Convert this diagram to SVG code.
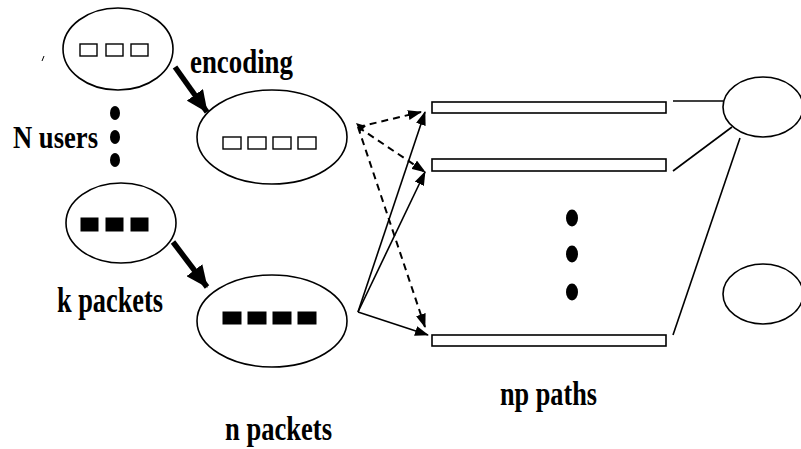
<svg xmlns="http://www.w3.org/2000/svg" width="801" height="449" viewBox="0 0 801 449">
<defs>
<style>
.el{fill:none;stroke:#000;stroke-width:1.6}
.sq{fill:#fff;stroke:#000;stroke-width:1.4}
.fq{fill:#000;stroke:#000;stroke-width:1}
.bar{fill:#fff;stroke:#000;stroke-width:1.6}
.dot{fill:#000}
.lbl{font-family:"Liberation Serif","Times New Roman",serif;font-weight:bold;fill:#000}
.thin{fill:none;stroke:#000;stroke-width:1.6}
.dash{fill:none;stroke:#000;stroke-width:2;stroke-dasharray:7 5}
.thick{fill:none;stroke:#000;stroke-width:5.5}
</style>
<marker id="ah" markerUnits="userSpaceOnUse" markerWidth="14" markerHeight="10" refX="13" refY="5" orient="auto"><path d="M0,0 L14,5 L0,10 z" fill="#000"/></marker>
<marker id="big" markerUnits="userSpaceOnUse" markerWidth="22" markerHeight="20" refX="21" refY="10" orient="auto"><path d="M0,0 L22,10 L0,20 z" fill="#000"/></marker>
</defs>
<g id="user1">
<ellipse class="el" cx="118" cy="49" rx="55" ry="41"/>
<rect class="sq" x="80" y="44" width="17" height="12"/>
<rect class="sq" x="106" y="44" width="17" height="12"/>
<rect class="sq" x="131" y="44" width="17" height="12"/>
</g>
<g id="userN">
<ellipse class="el" cx="121" cy="223" rx="55" ry="40"/>
<rect class="fq" x="81" y="218" width="17" height="13"/>
<rect class="fq" x="106" y="218" width="17" height="13"/>
<rect class="fq" x="131" y="218" width="17" height="13"/>
</g>
<g id="enc1">
<ellipse class="el" cx="272" cy="137" rx="75" ry="47"/>
<rect class="sq" x="223" y="137" width="18" height="12"/>
<rect class="sq" x="248" y="137" width="18" height="12"/>
<rect class="sq" x="273" y="137" width="18" height="12"/>
<rect class="sq" x="298" y="137" width="18" height="12"/>
</g>
<g id="encN">
<ellipse class="el" cx="272" cy="321" rx="75" ry="46"/>
<rect class="fq" x="223" y="312" width="18" height="12"/>
<rect class="fq" x="248" y="312" width="18" height="12"/>
<rect class="fq" x="273" y="312" width="18" height="12"/>
<rect class="fq" x="298" y="312" width="18" height="12"/>
</g>
<g id="users-dots">
<ellipse class="dot" cx="115" cy="113" rx="5" ry="7"/>
<ellipse class="dot" cx="115" cy="137" rx="5" ry="7"/>
<ellipse class="dot" cx="115" cy="160" rx="5" ry="7"/>
</g>
<g id="path1"><rect class="bar" x="432" y="102" width="234" height="11"/></g>
<g id="path2"><rect class="bar" x="432" y="159" width="234" height="12"/></g>
<g id="pathN"><rect class="bar" x="432" y="335" width="234" height="11"/></g>
<g id="paths-dots">
<ellipse class="dot" cx="572" cy="218" rx="6" ry="8.5"/>
<ellipse class="dot" cx="572" cy="254" rx="6" ry="8.5"/>
<ellipse class="dot" cx="572" cy="292" rx="6" ry="8.5"/>
</g>
<g id="rx1"><ellipse class="el" cx="763" cy="107" rx="40" ry="30"/></g>
<g id="rx2"><ellipse class="el" cx="763" cy="294" rx="40" ry="30"/></g>
<g id="connectors">
<line class="thick" x1="175" y1="67" x2="207" y2="112" marker-end="url(#big)"/>
<line class="thick" x1="173" y1="242" x2="207" y2="287" marker-end="url(#big)"/>
<line class="dash" x1="358" y1="127" x2="421" y2="112" marker-end="url(#ah)"/>
<line class="dash" x1="358" y1="127" x2="425" y2="172" marker-end="url(#ah)"/>
<line class="dash" x1="358" y1="127" x2="425" y2="327" marker-end="url(#ah)"/>
<path d="M356,123 L366,126 L360,132 z" fill="#000"/>
<line class="thin" x1="358" y1="312" x2="425" y2="112" marker-end="url(#ah)"/>
<line class="thin" x1="358" y1="312" x2="425" y2="172" marker-end="url(#ah)"/>
<line class="thin" x1="358" y1="312" x2="428" y2="335" stroke-width="2.4" marker-end="url(#ah)"/>
<line class="thin" x1="673" y1="101" x2="723" y2="101" stroke-width="2"/>
<line class="thin" x1="673" y1="171" x2="732" y2="127"/>
<line class="thin" x1="673" y1="335" x2="740" y2="138"/>
<path d="M44,56 L42,61" stroke="#000" stroke-width="1" fill="none"/>
</g>
<g id="labels">
<text class="lbl" x="190" y="73" font-size="34" textLength="103" lengthAdjust="spacingAndGlyphs">encoding</text>
<text class="lbl" x="13" y="148" font-size="31" textLength="85" lengthAdjust="spacingAndGlyphs">N users</text>
<text class="lbl" x="57" y="312" font-size="35" textLength="106" lengthAdjust="spacingAndGlyphs">k packets</text>
<text class="lbl" x="225" y="440" font-size="34" textLength="107" lengthAdjust="spacingAndGlyphs">n packets</text>
<text class="lbl" x="500" y="405" font-size="34" textLength="97" lengthAdjust="spacingAndGlyphs">np paths</text>
</g>
</svg>
